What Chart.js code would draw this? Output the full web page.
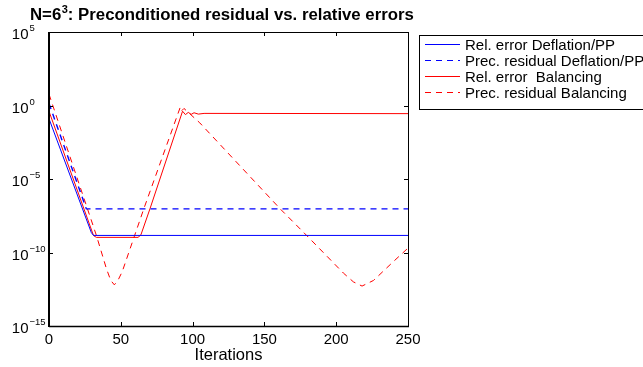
<!DOCTYPE html>
<html>
<head>
<meta charset="utf-8">
<script src="https://cdn.jsdelivr.net/npm/chart.js@4"></script>
<style>
  html, body { margin: 0; padding: 0; background: #fff; }
  canvas { display: block; }
</style>
</head>
<body>
<canvas id="myChart" width="643" height="367"></canvas>
<script>
// values (iteration, value)
var relDefIter = [0, 29.5, 31, 250];
var relDefVal = [0.126, 2.24e-9, 1.45e-9, 1.45e-9];

var resDefIter = [0, 26, 250];
var resDefVal = [1.38, 9.3e-8, 9.3e-8];

var relBalIter = [0, 31, 33, 62, 64, 70.3, 93, 95, 97, 99, 101, 104, 108, 250];
var relBalVal = [0.4, 1.41e-9, 1.07e-9, 1.07e-9, 1.58e-9, 9.3e-8, 0.41, 0.24, 0.34, 0.25, 0.32, 0.26, 0.29, 0.28];

var resBalIter = [0, 33, 40, 43, 45.5, 48, 51, 66, 91.5, 92.5, 94, 105, 161, 179.4, 205, 212, 218, 226, 240, 250];
var resBalVal = [5.89, 1.45e-9, 7.9e-12, 1.26e-12, 6.3e-13, 1.26e-12, 5.0e-12, 9.3e-8, 0.81, 0.45, 0.63, 0.066, 9.3e-8, 1.45e-9, 4.0e-12, 1.0e-12, 5.2e-13, 1.26e-12, 2.5e-11, 2.0e-10];

var xTicks = [0, 50, 100, 150, 200, 250];
var yTickExps = [5, 0, -5, -10, -15];

var FONT = '"Liberation Sans", Arial, Helvetica, sans-serif';

function pts(xs, ys) {
    return xs.map(function (x, i) { return { x: x, y: ys[i] }; });
}

var matlabAxes = {
    id: 'matlabAxes',
    beforeDraw: function (chart) {
        var c = chart.ctx;
        c.save();
        c.fillStyle = '#fff';
        c.fillRect(0, 0, chart.width, chart.height);
        c.restore();
    },
    afterDraw: function (chart) {
        var c = chart.ctx;
        var a = chart.chartArea;
        var xs = chart.scales.x, ys = chart.scales.y;
        c.save();

        // box
        c.strokeStyle = '#000';
        c.lineWidth = 1;
        c.beginPath();
        c.moveTo(a.left, a.top + 0.5);
        c.lineTo(a.right + 0.5, a.top + 0.5);
        c.lineTo(a.right + 0.5, a.bottom);
        c.stroke();
        c.lineWidth = 1.5;
        c.beginPath();
        c.moveTo(a.left, a.bottom + 0.5);
        c.lineTo(a.right + 1, a.bottom + 0.5);
        c.stroke();
        c.lineWidth = 2;
        c.beginPath();
        c.moveTo(a.left, a.top);
        c.lineTo(a.left, a.bottom + 1);
        c.stroke();

        // inward ticks + labels
        c.lineWidth = 1;
        c.fillStyle = '#000';
        c.font = '15px ' + FONT;
        c.textAlign = 'center';
        c.textBaseline = 'alphabetic';
        xTicks.forEach(function (t) {
            var px = Math.round(xs.getPixelForValue(t)) + 0.5;
            c.beginPath();
            c.moveTo(px, a.bottom);
            c.lineTo(px, a.bottom - 4);
            c.moveTo(px, a.top);
            c.lineTo(px, a.top + 4);
            c.stroke();
            c.fillText(String(t), xs.getPixelForValue(t), a.bottom + 18);
        });

        yTickExps.forEach(function (e) {
            var py = Math.round(ys.getPixelForValue(Math.pow(10, e))) + 0.5;
            c.beginPath();
            c.moveTo(a.left, py);
            c.lineTo(a.left + 4, py);
            c.moveTo(a.right, py);
            c.lineTo(a.right - 4, py);
            c.stroke();
            c.font = '15px ' + FONT;
            c.textAlign = 'right';
            c.fillText('10', 28.5, py + 6);
            c.font = '9.5px ' + FONT;
            c.textAlign = 'left';
            c.fillText(String(e).replace('-', '\u2212'), 29.5, py - 2);
        });

        // x label
        c.font = '16.5px ' + FONT;
        c.textAlign = 'center';
        c.fillText('Iterations', (a.left + a.right) / 2, 360);

        // title with superscript
        c.textAlign = 'left';
        var tx = 30, ty = 20;
        c.font = 'bold 16.8px ' + FONT;
        c.fillText('N=6', tx, ty);
        tx += c.measureText('N=6').width;
        c.font = 'bold 11px ' + FONT;
        c.fillText('3', tx + 0.5, ty - 7.5);
        tx += c.measureText('3').width + 0.5;
        c.font = 'bold 16.8px ' + FONT;
        c.fillText(': Preconditioned residual vs. relative errors', tx, ty);

        // legend box
        c.lineWidth = 1;
        c.setLineDash([]);
        c.strokeRect(419.5, 35.5, 240, 74);
        c.font = '15px ' + FONT;
        chart.data.datasets.forEach(function (ds, i) {
            var ry = 44.5 + i * 16;
            c.strokeStyle = ds.borderColor;
            c.lineWidth = 1;
            c.setLineDash(ds.borderDash || []);
            c.beginPath();
            c.moveTo(425, ry);
            c.lineTo(460, ry);
            c.stroke();
            c.setLineDash([]);
            c.fillStyle = '#000';
            c.fillText(ds.label, 465, ry + 5.5);
        });
        c.restore();
    }
};

var ctx = document.getElementById('myChart').getContext('2d');
var myChart = new Chart(ctx, {
    type: 'line',
    data: {
        datasets: [{
            label: 'Rel. error Deflation/PP',
            data: pts(relDefIter, relDefVal),
            borderColor: '#0000ff',
            borderWidth: 1
        },
        {
            label: 'Prec. residual Deflation/PP',
            data: pts(resDefIter, resDefVal),
            borderColor: '#0000ff',
            borderWidth: 1.4,
            borderDash: [6, 5]
        },
        {
            label: 'Rel. error  Balancing',
            data: pts(relBalIter, relBalVal),
            borderColor: '#ff0000',
            borderWidth: 1
        },
        {
            label: 'Prec. residual Balancing',
            data: pts(resBalIter, resBalVal),
            borderColor: '#ff0000',
            borderWidth: 1,
            borderDash: [6, 5]
        }]
    },
    options: {
        responsive: false,
        animation: false,
        devicePixelRatio: 1,
        layout: {
            padding: { left: 49, top: 32, right: 235, bottom: 41 }
        },
        elements: {
            point: { radius: 0 },
            line: { tension: 0 }
        },
        plugins: {
            legend: { display: false },
            tooltip: { enabled: false }
        },
        scales: {
            x: {
                type: 'linear',
                min: 0,
                max: 250,
                display: false
            },
            y: {
                type: 'logarithmic',
                min: 1e-15,
                max: 1e5,
                display: false
            }
        }
    },
    plugins: [matlabAxes]
});
</script>
</body>
</html>
